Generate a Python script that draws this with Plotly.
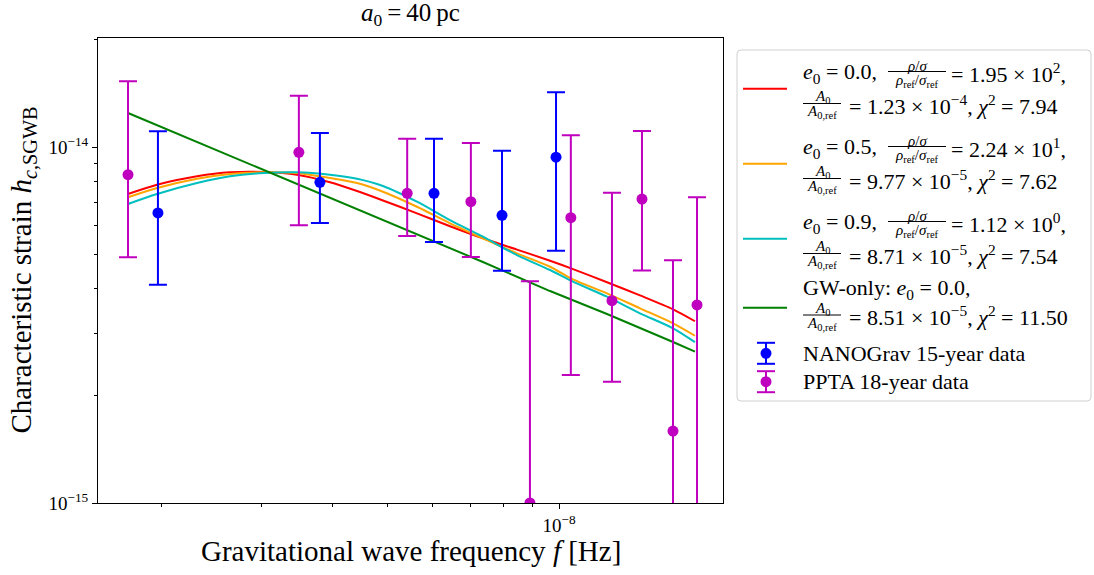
import plotly.graph_objects as go

FONT = "Liberation Serif"

# ---------------- data ----------------
ng_f = [1.973e-9, 3.80e-9, 6.03e-9, 7.94e-9, 9.88e-9]
ng_h = [6.53e-15, 7.96e-15, 7.41e-15, 6.43e-15, 9.36e-15]
ng_hi = [1.107e-14, 1.095e-14, 1.055e-14, 9.76e-15, 1.425e-14]
ng_lo = [4.10e-15, 6.12e-15, 5.41e-15, 4.49e-15, 5.11e-15]

pp_f = [1.748e-9, 3.49e-9, 5.41e-9, 7.00e-9, 8.89e-9, 1.049e-8, 1.239e-8, 1.399e-8, 1.586e-8, 1.748e-8]
pp_h = [8.36e-15, 9.66e-15, 7.41e-15, 7.02e-15, 1.00e-15, 6.33e-15, 3.70e-15, 7.14e-15, 1.592e-15, 3.60e-15]
pp_hi = [1.530e-14, 1.393e-14, 1.055e-14, 1.026e-14, 4.20e-15, 1.079e-14, 7.44e-15, 1.109e-14, 4.81e-15, 7.22e-15]
pp_lo = [4.90e-15, 6.03e-15, 5.62e-15, 4.91e-15, 1e-16, 2.29e-15, 2.19e-15, 4.50e-15, 1e-16, 1e-16]

curve_f = [1.748e-9, 1.966e-9, 2.311e-9, 2.641e-9, 3.031e-9, 3.463e-9, 3.958e-9, 4.416e-9,
           4.905e-9, 5.628e-9, 6.433e-9, 7.350e-9, 8.435e-9, 9.643e-9, 1.0583e-8, 1.2143e-8,
           1.3878e-8, 1.5864e-8, 1.7338e-8]
h_e00 = [7.379e-15, 7.836e-15, 8.273e-15, 8.490e-15, 8.507e-15, 8.360e-15, 7.96e-15, 7.52e-15,
         7.076e-15, 6.511e-15, 5.99e-15, 5.54e-15, 5.15e-15, 4.79e-15, 4.54e-15, 4.17e-15,
         3.83e-15, 3.50e-15, 3.24e-15]
h_e05 = [7.225e-15, 7.672e-15, 8.148e-15, 8.398e-15, 8.490e-15, 8.452e-15, 8.183e-15, 7.923e-15,
         7.489e-15, 6.795e-15, 6.105e-15, 5.541e-15, 5.027e-15, 4.610e-15, 4.249e-15, 3.882e-15,
         3.523e-15, 3.197e-15, 2.95e-15]
h_e09 = [6.918e-15, 7.379e-15, 7.923e-15, 8.273e-15, 8.452e-15, 8.490e-15, 8.360e-15, 8.148e-15,
         7.772e-15, 7.019e-15, 6.236e-15, 5.598e-15, 4.971e-15, 4.513e-15, 4.184e-15, 3.797e-15,
         3.411e-15, 3.095e-15, 2.83e-15]
gw_f = [1.748e-9, 2.311e-9, 3.031e-9, 3.958e-9, 5.628e-9, 7.350e-9, 9.643e-9, 1.2143e-8, 1.5864e-8, 1.7338e-8]
gw_h = [1.246e-14, 1.033e-14, 8.620e-15, 7.191e-15, 5.695e-15, 4.753e-15, 3.939e-15, 3.396e-15, 2.833e-15, 2.661e-15]

x_ticks = [1e-8]
x_ticktext = ["10<sup>−8</sup>"]
x_minor = [2e-9, 3e-9, 4e-9, 5e-9, 6e-9, 7e-9, 8e-9, 9e-9]
y_ticks = [1e-15, 1e-14]
y_ticktext = ["10<sup>−15</sup>", "10<sup>−14</sup>"]
y_minor = [2e-15, 3e-15, 4e-15, 5e-15, 6e-15, 7e-15, 8e-15, 9e-15, 2e-14]

RED, ORANGE, CYAN, GREEN = "#ff0000", "#ffa500", "#00bfbf", "#008000"
BLUE, MAG = "#0000ff", "#bf00bf"

# ---------------- figure ----------------
W, H = 1094, 575
L, R, T, B = 98, 371, 38, 72
PW, PH = W - L - R, H - T - B


def X(px):
    return (px - L) / PW


def Y(py):
    return (T + PH - py) / PH


fig = go.Figure()
for h, c in [(h_e00, RED), (h_e05, ORANGE), (h_e09, CYAN)]:
    fig.add_trace(go.Scatter(x=curve_f, y=h, mode="lines",
                             line=dict(color=c, width=2, shape="spline", smoothing=0.8),
                             showlegend=False, hoverinfo="skip"))
fig.add_trace(go.Scatter(x=gw_f, y=gw_h, mode="lines", line=dict(color=GREEN, width=2),
                         showlegend=False, hoverinfo="skip"))


def errs(v, hi, lo):
    return [a - b for a, b in zip(hi, v)], [b - a for a, b in zip(lo, v)]


p, m = errs(ng_h, ng_hi, ng_lo)
fig.add_trace(go.Scatter(x=ng_f, y=ng_h, mode="markers", marker=dict(color=BLUE, size=11),
                         error_y=dict(type="data", symmetric=False, array=p, arrayminus=m,
                                      color=BLUE, thickness=2, width=9),
                         showlegend=False))
p, m = errs(pp_h, pp_hi, pp_lo)
fig.add_trace(go.Scatter(x=pp_f, y=pp_h, mode="markers", marker=dict(color=MAG, size=11),
                         error_y=dict(type="data", symmetric=False, array=p, arrayminus=m,
                                      color=MAG, thickness=2, width=9),
                         showlegend=False))

axis_common = dict(type="log", showline=True, linecolor="black", linewidth=1, mirror=True,
                   ticks="outside", ticklen=5, tickwidth=1, tickcolor="black", showgrid=False,
                   zeroline=False, tickfont=dict(family=FONT, size=19, color="black"))
fig.update_xaxes(range=[-8.8102, -7.7118], tickmode="array", tickvals=x_ticks, ticktext=x_ticktext,
                 minor=dict(tickmode="array", tickvals=x_minor, ticks="outside", ticklen=3,
                            tickwidth=1, tickcolor="black", showgrid=False), **axis_common)
fig.update_yaxes(range=[-15, -13.6938], tickmode="array", tickvals=y_ticks, ticktext=y_ticktext,
                 minor=dict(tickmode="array", tickvals=y_minor, ticks="outside", ticklen=3,
                            tickwidth=1, tickcolor="black", showgrid=False), **axis_common)

ann = []
shapes = []


def text(px, py, s, size=22, anchor="left", **kw):
    ann.append(dict(x=X(px), y=Y(py), xref="paper", yref="paper", text=s, showarrow=False,
                    xanchor=anchor, yanchor="middle", font=dict(family=FONT, size=size, color="black"), **kw))


def hline(x0, x1, y, color="black", width=1):
    shapes.append(dict(type="line", xref="paper", yref="paper", x0=X(x0), x1=X(x1), y0=Y(y), y1=Y(y),
                       line=dict(color=color, width=width)))


def vline(x, y0, y1, color, width=2):
    shapes.append(dict(type="line", xref="paper", yref="paper", x0=X(x), x1=X(x), y0=Y(y0), y1=Y(y1),
                       line=dict(color=color, width=width)))


# titles / axis labels
text(410.5, 15, "<i>a</i><sub>0</sub>\u2009=\u200940\u2009pc", size=25, anchor="center")
text(410.5, 551, "Gravitational wave frequency <i>f</i> [Hz]", size=29, anchor="center")
text(22, 270.5, "Characteristic strain <i>h</i><sub><i>c</i>,SGWB</sub>", size=29, anchor="center", textangle=-90)

# legend box (rounded rectangle)
lx0, lx1, ly0, ly1 = X(737), X(1091), Y(50), Y(401)
rx, ry = 4 / PW, 4 / PH
path = (f"M {lx0+rx},{ly0} L {lx1-rx},{ly0} Q {lx1},{ly0} {lx1},{ly0-ry} L {lx1},{ly1+ry} "
        f"Q {lx1},{ly1} {lx1-rx},{ly1} L {lx0+rx},{ly1} Q {lx0},{ly1} {lx0},{ly1+ry} "
        f"L {lx0},{ly0-ry} Q {lx0},{ly0} {lx0+rx},{ly0} Z")
shapes.append(dict(type="path", xref="paper", yref="paper", path=path, fillcolor="white",
                   line=dict(color="#d0d0d0", width=1), layer="below"))

entries = [
    (RED, "0.0", "1.95 × 10<sup>2</sup>", "1.23 × 10<sup>−4</sup>", "7.94"),
    (ORANGE, "0.5", "2.24 × 10<sup>1</sup>", "9.77 × 10<sup>−5</sup>", "7.62"),
    (CYAN, "0.9", "1.12 × 10<sup>0</sup>", "8.71 × 10<sup>−5</sup>", "7.54"),
]
FR = 15
for i, (c, e0, rs, a0, chi) in enumerate(entries):
    dy = 75 * i
    hline(743, 787, 88.7 + dy, c, 2)
    text(801, 73 + dy, f"<i>e</i><sub>0</sub> = {e0},")
    text(917, 66 + dy, "<i>ρ</i>/<i>σ</i>", size=FR, anchor="center")
    hline(888, 946, 71.5 + dy)
    text(917, 81 + dy, "<i>ρ</i><sub>ref</sub>/<i>σ</i><sub>ref</sub>", size=FR, anchor="center")
    text(949, 73 + dy, f"= {rs},")
    text(822, 97 + dy, "<i>A</i><sub>0</sub>", size=FR, anchor="center")
    hline(803, 841, 103.5 + dy)
    text(822, 112 + dy, "<i>A</i><sub>0,ref</sub>", size=FR, anchor="center")
    text(847, 104.7 + dy, f"= {a0}, <i>χ</i><sup>2</sup> = {chi}")

# GW-only entry
hline(743, 787, 307.7, GREEN, 2)
text(801, 289, "GW-only: <i>e</i><sub>0</sub> = 0.0,")
text(822, 308.5, "<i>A</i><sub>0</sub>", size=FR, anchor="center")
hline(803, 841, 315)
text(822, 323.5, "<i>A</i><sub>0,ref</sub>", size=FR, anchor="center")
text(847, 316, "= 8.51 × 10<sup>−5</sup>, <i>χ</i><sup>2</sup> = 11.50")

# data entries
for yc, c, lab in [(353.3, BLUE, "NANOGrav 15-year data"), (381.7, MAG, "PPTA 18-year data")]:
    vline(766, yc - 10.5, yc + 10.5, c, 2)
    hline(757, 775, yc - 10.5, c, 2)
    hline(757, 775, yc + 10.5, c, 2)
    shapes.append(dict(type="circle", xref="paper", yref="paper", x0=X(760.5), x1=X(771.5),
                       y0=Y(yc - 5.5), y1=Y(yc + 5.5), fillcolor=c, line=dict(color=c, width=0)))
    text(801, yc, lab)

fig.update_layout(width=W, height=H, margin=dict(l=L, r=R, t=T, b=B, pad=0),
                  plot_bgcolor="white", paper_bgcolor="white", showlegend=False,
                  annotations=ann, shapes=shapes, font=dict(family=FONT))

fig.write_html("out.html")
